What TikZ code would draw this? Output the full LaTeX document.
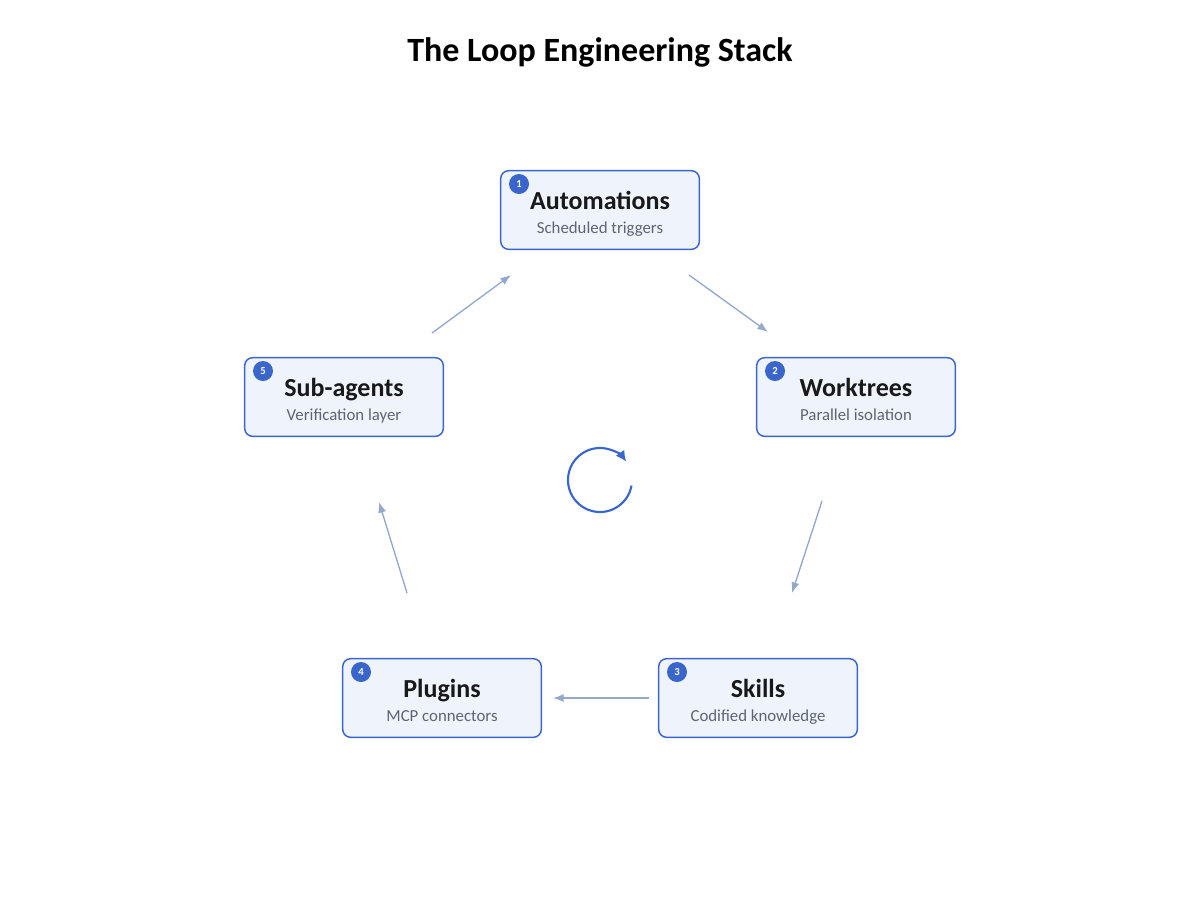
\documentclass[tikz,border=0pt]{standalone}
\usepackage{fontspec}
\setmainfont{Carlito}
\usetikzlibrary{arrows.meta}
\definecolor{boxfill}{HTML}{EEF3FC}
\definecolor{boxline}{HTML}{3A66CC}
\definecolor{arr}{HTML}{94A8CC}
\definecolor{subt}{HTML}{5E6470}
\begin{document}
\begin{tikzpicture}[x=0.75pt,y=-0.75pt,
  card/.style={draw=boxline,line width=1.1pt,fill=boxfill,rounded corners=6pt,minimum width=149pt,minimum height=59pt,inner sep=0pt},
  badge/.style={circle,fill=boxline,text=white,inner sep=0pt,minimum size=15pt,font=\bfseries\fontsize{8}{9}\selectfont},
  ttl/.style={anchor=base,font=\bfseries\fontsize{19.5}{22}\selectfont,text=black!90},
  sub/.style={anchor=base,font=\fontsize{12.6}{14}\selectfont,text=subt},
  conn/.style={draw=arr,line width=1pt,-{Latex[length=8pt,width=6pt]}}]
\useasboundingbox (0,0) rectangle (1200,900);
\node[font=\bfseries\fontsize{25.5}{30}\selectfont] (title) at (600,52) {The Loop Engineering Stack};
\foreach \n/\x/\y/\k/\t/\s in {a/600/210/1/Automations/Scheduled triggers, w/856/397/2/Worktrees/Parallel isolation, k/758/698/3/Skills/Codified knowledge, p/442/698/4/Plugins/MCP connectors, s/344/397/5/Sub-agents/Verification layer}{
  \node[card] (\n) at (\x,\y) {};
  \node[ttl] (\n t) at (\x,\y-1) {\t};
  \node[sub] (\n s) at (\x,\y+23) {\s};
  \node[badge] (\n b) at (\x-81,\y-26) {\k};
}
\coordinate (a1) at (432,333); \coordinate (a2) at (511,275);
\coordinate (b1) at (689,275); \coordinate (b2) at (768,332);
\coordinate (c1) at (822,501); \coordinate (c2) at (792,593);
\coordinate (d1) at (649,698); \coordinate (d2) at (553,698);
\coordinate (e1) at (407,593); \coordinate (e2) at (379,502);
\draw[conn] (a1) -- (a2);
\draw[conn] (b1) -- (b2);
\draw[conn] (c1) -- (c2);
\draw[conn] (d1) -- (d2);
\draw[conn] (e1) -- (e2);
\coordinate (cc) at (600,480);
\draw[boxline,line width=1.6pt,-{Latex[length=8pt,width=8pt]}] ([shift={(10:32)}]cc) arc[start angle=10,end angle=325,radius=32];
\end{tikzpicture}
\end{document}
